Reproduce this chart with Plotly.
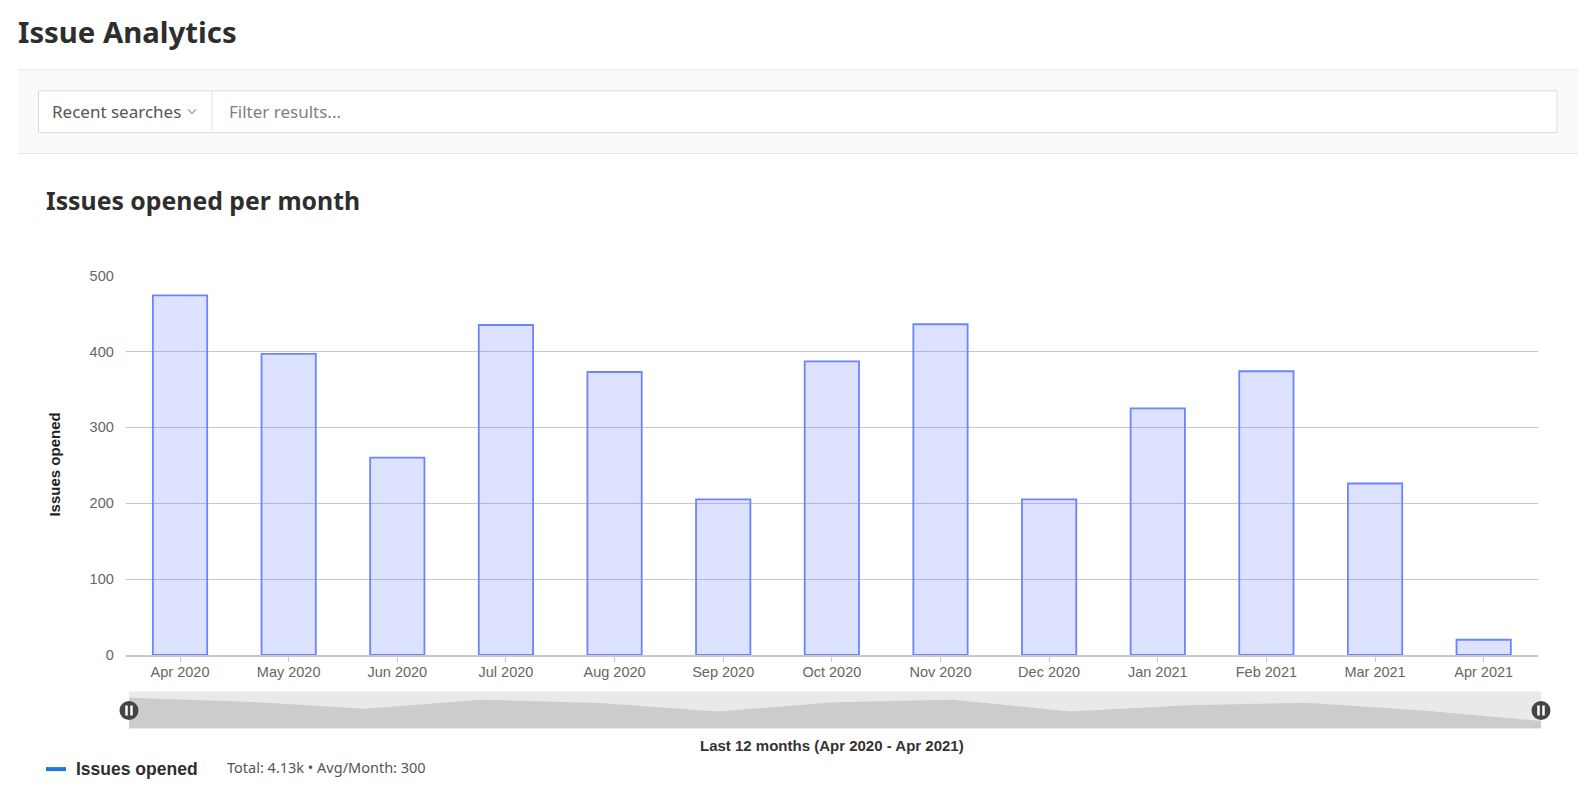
import plotly.graph_objects as go

# ---- data ----
months = ["Apr 2020", "May 2020", "Jun 2020", "Jul 2020", "Aug 2020", "Sep 2020",
          "Oct 2020", "Nov 2020", "Dec 2020", "Jan 2021", "Feb 2021", "Mar 2021", "Apr 2021"]
issues_opened = [474, 397, 260, 435, 373, 205, 387, 436, 205, 325, 374, 226, 20]
y_ticks = [0, 100, 200, 300, 400, 500]

W, H = 1578, 793
# observed vertical placement of the rendered page
V_OFF, V_SCALE = 8.8, 0.978


def px(x):
    return x / W


def py(y):
    return 1 - (y - V_OFF) / (V_SCALE * H)


PAGE_FONT = "Noto Sans"
CHART_FONT = "Liberation Sans, Arial, sans-serif"

fig = go.Figure()

# main bars
fig.add_trace(go.Bar(
    x=months, y=issues_opened, width=0.5,
    marker=dict(color="rgba(97,124,255,0.22)", line=dict(color="rgb(108,132,255)", width=1.8)),
    xaxis="x", yaxis="y", hoverinfo="x+y", showlegend=False,
))

# slider shadow (base + area)
idx = list(range(len(months)))
slider_min = -127
fig.add_trace(go.Scatter(
    x=idx, y=[slider_min] * len(idx), mode="lines", line=dict(width=0, color="rgba(0,0,0,0)"),
    xaxis="x2", yaxis="y2", hoverinfo="skip", showlegend=False,
))
fig.add_trace(go.Scatter(
    x=idx, y=issues_opened, mode="lines", line=dict(width=0, color="#cccccc"),
    fill="tonexty", fillcolor="#cccccc",
    xaxis="x2", yaxis="y2", hoverinfo="skip", showlegend=False,
))

shapes = []
annotations = []

# header band
shapes.append(dict(type="rect", xref="paper", yref="paper", x0=px(18), x1=px(1578), y0=py(154), y1=py(70.5),
                   fillcolor="#fafafa", line=dict(width=0), layer="below"))
shapes.append(dict(type="line", xref="paper", yref="paper", x0=px(18), x1=px(1578), y0=py(70.5), y1=py(70.5),
                   line=dict(color="#e5e5e5", width=1)))
shapes.append(dict(type="line", xref="paper", yref="paper", x0=px(18), x1=px(1578), y0=py(154), y1=py(154),
                   line=dict(color="#e5e5e5", width=1)))
# filter box
shapes.append(dict(type="rect", xref="paper", yref="paper", x0=px(38.5), x1=px(1557), y0=py(133), y1=py(91.5),
                   fillcolor="#ffffff", line=dict(color="#dbdbdb", width=1), layer="below"))
shapes.append(dict(type="line", xref="paper", yref="paper", x0=px(212), x1=px(212), y0=py(132), y1=py(92),
                   line=dict(color="#e0e0e0", width=1)))
# chevron
shapes.append(dict(type="path", xref="paper", yref="paper",
                   path=f"M {px(188)} {py(110)} L {px(192)} {py(114)} L {px(196)} {py(110)}",
                   line=dict(color="#b0b0b0", width=1.5)))

# slider background
shapes.append(dict(type="rect", xref="paper", yref="paper", x0=px(129), x1=px(1541), y0=py(728), y1=py(691),
                   fillcolor="#e9e9e9", line=dict(width=0), layer="below"))
# slider handles
for hx in (129, 1541):
    shapes.append(dict(type="circle", xref="paper", yref="paper",
                       x0=px(hx - 9.5), x1=px(hx + 9.5), y0=py(710 + 9.5), y1=py(710 - 9.5),
                       fillcolor="#454545", line=dict(width=0)))
    for dx in (-2.5, 2.5):
        shapes.append(dict(type="line", xref="paper", yref="paper",
                           x0=px(hx + dx), x1=px(hx + dx), y0=py(715), y1=py(705),
                           line=dict(color="#ffffff", width=2.5)))

# legend marker line
shapes.append(dict(type="line", xref="paper", yref="paper", x0=px(46), x1=px(66), y0=py(768.5), y1=py(768.5),
                   line=dict(color="#1f78d1", width=4)))


def text(x, y, s, size, color, font=PAGE_FONT, xanchor="left", **kw):
    annotations.append(dict(xref="paper", yref="paper", x=px(x), y=py(y), text=s, showarrow=False,
                            xanchor=xanchor, yanchor="middle",
                            font=dict(family=font, size=size, color=color), **kw))


text(16, 33, "<b>Issue Analytics</b>", 29.3, "#2e2e2e")
text(50, 112.5, "Recent searches", 17, "#555555")
text(227, 112.5, "Filter results...", 17, "#808080")
text(44, 200, "<b>Issues opened per month</b>", 24.8, "#2e2e2e")
text(54.5, 465, "<b>Issues opened</b>", 15, "#222222", font=CHART_FONT, xanchor="center", textangle=-90)
text(832, 744.5, "<b>Last 12 months (Apr 2020 - Apr 2021)</b>", 15, "#333333", font=CHART_FONT, xanchor="center")
text(74, 768, "<b>Issues opened</b>", 17.5, "#2e2e2e", font=CHART_FONT)
text(225, 766.5, "Total: 4.13k • Avg/Month: 300", 14.5, "#555555")

fig.update_layout(
    width=W, height=H,
    margin=dict(l=0, r=0, t=0, b=0),
    paper_bgcolor="#ffffff", plot_bgcolor="rgba(0,0,0,0)",
    showlegend=False,
    font=dict(family=CHART_FONT, size=14, color="#666666"),
    xaxis=dict(domain=[px(125.7), px(1538)], type="category", range=[-0.5, 12.5],
               showline=True, linecolor="#c8c8c8", linewidth=1.5,
               ticks="outside", ticklen=5, tickcolor="#c8c8c8", ticklabelstandoff=-2,
               tickfont=dict(family=CHART_FONT, size=14.5, color="#666666"),
               showgrid=False, zeroline=False, fixedrange=True),
    yaxis=dict(domain=[py(654.5), py(276)], range=[0, 500], tickvals=y_ticks,
               showgrid=True, gridcolor="#c8c8c8", gridwidth=1, zeroline=False, showline=False,
               ticks="outside", ticklen=8, tickcolor="rgba(0,0,0,0)",
               tickfont=dict(family=CHART_FONT, size=14.5, color="#666666"), fixedrange=True),
    xaxis2=dict(domain=[px(129), px(1541)], range=[0, 12], visible=False, fixedrange=True),
    yaxis2=dict(domain=[py(728), py(691)], range=[slider_min, 596], visible=False, fixedrange=True),
    shapes=shapes,
    annotations=annotations,
)

fig.write_html("out.html")
